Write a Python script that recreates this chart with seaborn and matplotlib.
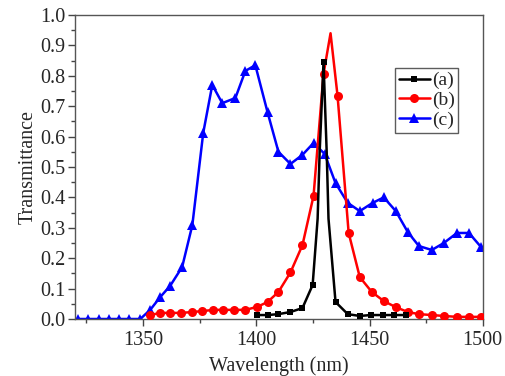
import numpy as np
import pandas as pd
import matplotlib
matplotlib.use("Agg")
import matplotlib.pyplot as plt
import seaborn as sns
from matplotlib.ticker import MultipleLocator

# (a) black squares
a_x = [1400.5, 1405.0, 1409.8, 1415.1, 1420.4, 1424.9, 1427.1, 1428.0, 1429.7, 1431.1, 1431.9, 1435.0,
       1440.4, 1445.7, 1450.5, 1455.8, 1460.7, 1466.0]
a_y = [0.013, 0.013, 0.016, 0.023, 0.036, 0.112, 0.33, 0.55, 0.845, 0.55, 0.33, 0.056,
       0.016, 0.010, 0.013, 0.013, 0.013, 0.013]
a_mark = [0, 1, 2, 3, 4, 5, 8, 11, 12, 13, 14, 15, 16, 17]

# (b) red circles
b_x = [1353.2, 1357.6, 1362.0, 1366.9, 1371.8, 1376.2, 1381.1, 1385.5, 1390.4, 1395.2, 1400.5, 1405.0,
       1409.8, 1415.1, 1420.4, 1425.3, 1429.7, 1432.8, 1435.9, 1440.8, 1445.7, 1451.0, 1456.3, 1461.6,
       1466.9, 1471.8, 1477.5, 1482.8, 1488.6, 1493.9, 1499.2]
b_y = [0.013, 0.020, 0.020, 0.020, 0.023, 0.026, 0.030, 0.030, 0.030, 0.030, 0.040, 0.056,
       0.089, 0.153, 0.243, 0.405, 0.806, 0.940, 0.734, 0.283, 0.138, 0.089, 0.059, 0.039,
       0.023, 0.016, 0.013, 0.010, 0.007, 0.007, 0.007]
b_mark = [i for i in range(len(b_x)) if i != 17]

# (c) blue triangles
c_x = [1321.3, 1325.8, 1330.6, 1335.0, 1339.5, 1343.9, 1348.8, 1353.2, 1357.6, 1362.0, 1367.3, 1371.8,
       1376.6, 1380.6, 1385.0, 1390.8, 1395.2, 1399.6, 1405.0, 1409.8, 1415.1, 1420.4, 1425.3, 1430.2,
       1435.0, 1440.4, 1445.7, 1451.4, 1456.3, 1461.6, 1466.9, 1471.8, 1477.5, 1482.8, 1488.6, 1493.9,
       1499.2]
c_y = [0.0, 0.0, 0.0, 0.0, 0.0, 0.0, 0.0, 0.030, 0.072, 0.109, 0.171, 0.309,
       0.612, 0.770, 0.710, 0.727, 0.816, 0.835, 0.680, 0.550, 0.510, 0.540, 0.579, 0.543,
       0.447, 0.382, 0.355, 0.382, 0.400, 0.355, 0.286, 0.240, 0.227, 0.250, 0.283, 0.283,
       0.237]

x_ticks = [1350, 1400, 1450, 1500]
y_ticks = [0.0, 0.1, 0.2, 0.3, 0.4, 0.5, 0.6, 0.7, 0.8, 0.9, 1.0]

sns.set_theme(style="ticks")
plt.rcParams['font.family'] = ['Liberation Serif', 'DejaVu Serif']

fig = plt.figure(figsize=(5.05, 3.76), dpi=100)
ax = fig.add_axes([0.1485, 0.1516, 0.8075, 0.8085])

dfa = pd.DataFrame({"x": a_x, "y": a_y})
dfb = pd.DataFrame({"x": b_x, "y": b_y})
dfc = pd.DataFrame({"x": c_x, "y": c_y})

sns.lineplot(data=dfa, x="x", y="y", ax=ax, color="black", marker="s", markersize=5,
             markevery=a_mark, linewidth=1.8, label="(a)", markeredgewidth=0, zorder=4)
sns.lineplot(data=dfb, x="x", y="y", ax=ax, color="#ff0000", marker="o", markersize=6.5,
             markevery=b_mark, linewidth=1.8, label="(b)", markeredgewidth=0, zorder=3)
sns.lineplot(data=dfc, x="x", y="y", ax=ax, color="#0000ff", marker="^", markersize=6.5,
             linewidth=1.8, label="(c)", markeredgewidth=0, zorder=2)

ax.set_xlim(1320, 1500)
ax.set_ylim(0, 1.0)
ax.set_xticks(x_ticks)
ax.set_yticks(y_ticks)
ax.set_yticklabels([f"{v:.1f}" for v in y_ticks])
ax.xaxis.set_minor_locator(MultipleLocator(25))
ax.yaxis.set_minor_locator(MultipleLocator(0.05))
ax.tick_params(which="major", direction="out", length=5, width=1, color="#444444",
               labelsize=14.5, pad=2, top=False, right=False)
ax.tick_params(axis="x", which="major", pad=3.5)
ax.tick_params(which="minor", direction="out", length=3, width=1, color="#444444",
               top=False, right=False)
for s in ax.spines.values():
    s.set_color("#555555")
    s.set_linewidth(1.0)
    s.set_visible(True)

ax.set_xlabel("Wavelength (nm)", fontsize=14.5, labelpad=5)
ax.set_ylabel("Transmittance", fontsize=14.5, labelpad=2)

leg = ax.legend(loc="upper left", bbox_to_anchor=(0.784, 0.826), borderaxespad=0,
                frameon=True, fancybox=False, fontsize=14, handlelength=1.6,
                handletextpad=0.1, labelspacing=0.1, borderpad=0.2)
leg.get_frame().set_edgecolor("#333333")
leg.get_frame().set_linewidth(1.0)

fig.savefig("out.png", dpi=100)
